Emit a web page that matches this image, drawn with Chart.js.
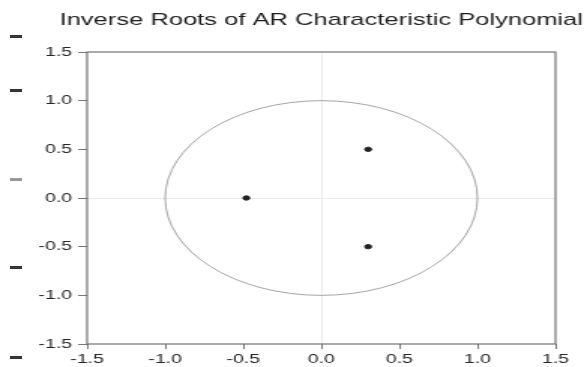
<!DOCTYPE html>
<html>
<head>
<meta charset="utf-8">
<script src="https://cdn.jsdelivr.net/npm/chart.js@4/dist/chart.umd.min.js"></script>
<style>
  html, body { margin: 0; padding: 0; background: #fff; overflow: hidden; }
  #wrap { position: absolute; left: 0; top: 0; width: 391px; height: 367px;
          transform: scaleX(1.5013); transform-origin: 0 0; }
  .dash { position: absolute; left: 10px; width: 12px; height: 3px; background: #333; }
</style>
</head>
<body>
<div class="dash" style="top:35px"></div>
<div class="dash" style="top:89px"></div>
<div class="dash" style="top:178px;background:#999"></div>
<div class="dash" style="top:266px"></div>
<div class="dash" style="top:356px"></div>
<div id="wrap"><canvas id="rootsChart" width="391" height="367"></canvas></div>
<script>
const chartTitle = "Inverse Roots of AR Characteristic Polynomial";
// inverse roots: real and imaginary parts
const rootsRe = [0.30, -0.48, 0.30];
const rootsIm = [0.50, 0.00, -0.50];
const axisMin = -1.5;
const axisMax = 1.5;
const axisStep = 0.5;
const unitRadius = 1;

const fontFamily = '"Liberation Sans", Arial, Helvetica, sans-serif';

const points = rootsRe.map((re, i) => ({ x: re, y: rootsIm[i] }));

const zeroGrid = ctx => (ctx.tick && ctx.tick.value === 0) ? "#ebebeb" : "rgba(0,0,0,0)";

const framePlugin = {
  id: "frame",
  beforeDatasetsDraw(chart) {
    const { ctx, scales: { x, y } } = chart;
    const cx = x.getPixelForValue(0), cy = y.getPixelForValue(0);
    const rx = x.getPixelForValue(unitRadius) - cx;
    const ry = cy - y.getPixelForValue(unitRadius);
    ctx.save();
    ctx.strokeStyle = "#9a9a9a";
    ctx.lineWidth = 0.9;
    ctx.beginPath();
    ctx.ellipse(cx, cy, rx, ry, 0, 0, Math.PI * 2);
    ctx.stroke();
    ctx.restore();
  },
  afterDraw(chart) {
    const { ctx, chartArea: a } = chart;
    ctx.save();
    ctx.strokeStyle = "#666";
    ctx.lineWidth = 1.1;
    ctx.strokeRect(a.left, a.top, a.right - a.left, a.bottom - a.top);
    ctx.fillStyle = "#1e1e1e";
    ctx.font = "17px " + fontFamily;
    ctx.textAlign = "center";
    ctx.textBaseline = "alphabetic";
    ctx.fillText(chartTitle, (a.left + a.right) / 2, 25);
    ctx.restore();
  }
};

new Chart(document.getElementById("rootsChart"), {
  type: "scatter",
  data: {
    datasets: [{
      data: points,
      backgroundColor: "#222",
      borderColor: "#222",
      pointRadius: 2.2,
      pointHoverRadius: 2.2
    }]
  },
  options: {
    responsive: false,
    animation: false,
    layout: { padding: { top: 52, right: 21, left: 0, bottom: 0 } },
    plugins: { legend: { display: false }, tooltip: { enabled: false } },
    scales: {
      x: {
        min: axisMin, max: axisMax,
        afterFit: s => { s.height = 23; },
        border: { display: false },
        grid: { color: zeroGrid, tickColor: "#777", tickLength: 5, lineWidth: 1 },
        ticks: { stepSize: axisStep, padding: 3, color: "#262626",
                 font: { family: fontFamily, size: 13 },
                 callback: v => Number(v).toFixed(1) }
      },
      y: {
        min: axisMin, max: axisMax,
        afterFit: s => { s.width = 58; },
        border: { display: false },
        grid: { color: zeroGrid, tickColor: "#777", tickLength: 6, lineWidth: 1 },
        ticks: { stepSize: axisStep, padding: 4, color: "#262626",
                 font: { family: fontFamily, size: 13 },
                 callback: v => Number(v).toFixed(1) }
      }
    }
  },
  plugins: [framePlugin]
});
</script>
</body>
</html>
